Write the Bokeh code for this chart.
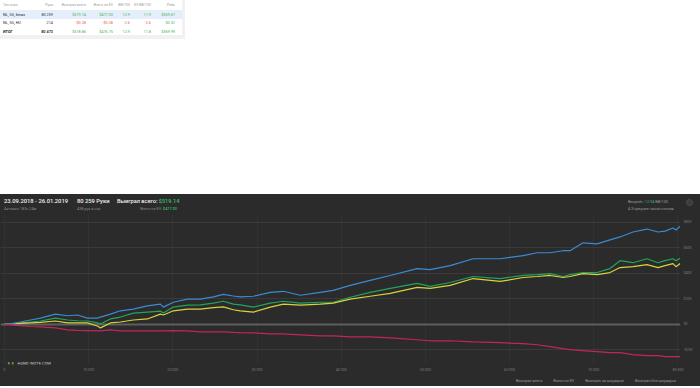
from bokeh.plotting import figure
from bokeh.models import Div, Range1d, FixedTicker, Span, Label, Legend, LegendItem
from bokeh.layouts import column
from bokeh.embed import file_html
from bokeh.resources import INLINE

# ---------------- table data ----------------
table_header = ["Тип игры", "Руки", "Выиграл всего", "Всего по EV", "BB/100", "EV BB/100", "Рейк"]
game_types = ["NL, SS, 6max", "NL, SS, HU", "ИТОГ"]
hands_col = ["80 259", "214", "80 473"]
won_col = ["$519.14", "-$0.28", "$518.86"]
ev_col = ["$477.03", "-$0.28", "$476.75"]
bb100_col = ["12.9", "-2.6", "12.9"]
evbb100_col = ["11.9", "-2.6", "11.8"]
rake_col = ["$369.67", "$0.32", "$369.99"]

# ---------------- chart data ----------------
hands = [0, 710, 1900, 3090, 4270, 6050, 7480, 8670, 9850, 11040, 11400, 12580, 13770, 15310, 16970,
         18520, 18870, 20060, 21720, 23270, 24810, 26000, 27180, 28010,
         29560, 31570, 33120, 35140, 37510, 39050, 41070, 43440, 45820, 49020, 50570, 52940, 55670,
         58880, 61600, 63270, 64810, 66350, 67180, 68720, 70390, 71930, 73120, 74660, 76320, 77630,
         78460, 79410, 79760, 80259]
won_total = [0, 4, 12, 19, 27, 50, 35, 29, 27, 12, 4, 43, 58, 89, 97, 105, 89, 136, 151, 153, 167, 182,
             159, 153,
             136, 167, 182, 167, 174, 174, 213, 252, 283, 322, 298, 329, 376, 360, 384, 391, 399, 376,
             391, 407, 407, 438, 500, 484, 515, 484, 500, 515, 500, 519.14]
won_ev = [0, 2, 8, 12, 16, 27, 12, 12, 12, -12, -27, 12, 19, 35, 43, 81, 74, 107, 120, 120, 132, 138,
          115, 107,
          97, 136, 159, 151, 159, 167, 198, 221, 244, 291, 283, 306, 360, 337, 368, 376, 384, 368, 376,
          399, 391, 407, 446, 453, 469, 446, 461, 477, 453, 477.03]
won_sd = [0, 4, 19, 35, 50, 81, 68, 74, 50, 50, 58, 81, 107, 120, 146, 159, 136, 174, 198, 198, 216, 236,
          223, 216,
          221, 252, 260, 229, 252, 267, 306, 345, 384, 438, 430, 461, 515, 515, 539, 562, 562, 578, 578,
          640, 632, 663, 686, 725, 748, 725, 732, 756, 740, 771]
won_nsd = [0, -2, -9, -16, -19, -27, -43, -47, -48, -50, -50, -43, -50, -50, -50, -50, -50, -48, -50, -58,
           -58, -58, -62, -64,
           -66, -74, -74, -81, -89, -89, -97, -97, -105, -120, -128, -128, -136, -143, -151, -159, -174,
           -190, -198, -205, -213, -221, -221, -236, -244, -244, -252, -252, -252, -252]

series_names = ["Выиграл всего", "Всего по EV", "Выиграл на шоудауне", "Выиграл без шоудауна"]
series_colors = ["#23a35c", "#d9d23c", "#3a8bd2", "#c4245c"]

x_ticks = [0, 10000, 20000, 30000, 40000, 50000, 60000, 70000, 80000]
x_tick_labels = ["0", "10 000", "20 000", "30 000", "40 000", "50 000", "60 000", "70 000", "80 000"]
y_ticks = [-200, 0, 200, 400, 600, 800]
y_tick_labels = ["-$200", "$0", "$200", "$400", "$600", "$800"]

FONT = "Roboto"
GREEN = "#4caf50"
RED = "#ef5a3c"
W = 700
BG = "#2b2b2b"

# ---------------- top table (HTML) ----------------
col_right = [None, 53, 86, 113, 130, 151, 175]
row_tops = [0, 10, 19, 27.5]
row_hs = [10, 9, 8.5, 7.5]
cells = ['<div style="position:absolute;left:0;top:10px;width:182px;height:9px;background:#e4effb;"></div>']


def cell(txt, col, top, h, color, weight=400, size=3.8):
    base = (f"position:absolute;top:{top}px;height:{h}px;line-height:{h}px;"
            f"font-family:{FONT};font-size:{size}px;color:{color};font-weight:{weight};white-space:nowrap;")
    if col == 0:
        return f'<div style="{base}left:3px;">{txt}</div>'
    return f'<div style="{base}right:{182 - col_right[col]}px;text-align:right;">{txt}</div>'


for j, t in enumerate(table_header):
    cells.append(cell(t, j, row_tops[0], row_hs[0], "#a0a0a0", size=3.5))


def vcol(s):
    return RED if s.startswith("-") else GREEN


for i in range(3):
    top, h = row_tops[i + 1], row_hs[i + 1]
    bold = 700 if i == 2 else 400
    cells.append(cell(game_types[i], 0, top, h, "#222222", bold))
    cells.append(cell(hands_col[i], 1, top, h, "#333333", bold))
    cells.append(cell(won_col[i], 2, top, h, vcol(won_col[i])))
    cells.append(cell(ev_col[i], 3, top, h, vcol(ev_col[i])))
    cells.append(cell(bb100_col[i], 4, top, h, vcol(bb100_col[i])))
    cells.append(cell(evbb100_col[i], 5, top, h, vcol(evbb100_col[i])))
    cells.append(cell(rake_col[i], 6, top, h, GREEN))

table_html = (
    f'<div style="position:relative;width:{W}px;height:194px;background:#ffffff;">'
    '<div style="position:absolute;left:0;top:0;width:185px;height:39px;background:#f1f1f1;"></div>'
    '<div style="position:absolute;left:0;top:0;width:182px;height:35px;background:#ffffff;overflow:hidden;">'
    + "".join(cells) + '</div></div>'
)
table_div = Div(text=table_html, width=W, height=194, margin=(0, 0, 0, 0))


# ---------------- dark header (HTML) ----------------
def span(txt, left, top, size, color, weight=400):
    return (f'<div style="position:absolute;left:{left}px;top:{top}px;font-family:{FONT};font-size:{size}px;'
            f'line-height:1;color:{color};font-weight:{weight};white-space:nowrap;">{txt}</div>')


hdr = [
    span("23.09.2018 - 26.01.2019", 4, 5, 5.8, "#f0f0f0", 500),
    span("Активен 183ч 24м", 4, 13, 3.8, "#8a8a8a"),
    span("80 259 Руки", 77, 5, 5.8, "#f0f0f0", 500),
    span("438 рук в час", 77, 13, 3.8, "#8a8a8a"),
    span(f'Выиграл всего: <span style="color:#3cbf6e">{won_col[0]}</span>', 117, 5, 5.6, "#f0f0f0", 500),
    (f'<div style="position:absolute;left:110px;width:67px;top:13px;text-align:right;font-family:{FONT};'
     f'font-size:3.8px;line-height:1;color:#8a8a8a;white-space:nowrap;">Всего по EV: '
     f'<span style="color:#3cbf6e;font-weight:500">{ev_col[0]}</span></div>'),
    span('Винрейт: <span style="color:#3cbf6e">12.94</span> BB/100', 628, 6, 3.8, "#9a9a9a"),
    span("4.3 среднее число столов", 628, 13, 3.8, "#9a9a9a"),
    ('<div style="position:absolute;left:686px;top:5px;width:7px;height:7px;border-radius:50%;'
     'background:#3c3c3c;border:0.7px solid #4e4e4e;"></div>'),
]
header_html = (f'<div style="position:relative;width:{W}px;height:20px;background:{BG};overflow:hidden;">'
               + "".join(hdr) + '</div>')
header_div = Div(text=header_html, width=W, height=20, margin=(0, 0, 0, 0))

# ---------------- chart ----------------
p = figure(width=W, height=161, x_range=Range1d(-475, 80300), y_range=Range1d(-314, 862),
           output_backend="svg", toolbar_location=None, y_axis_location="right",
           background_fill_color=BG, border_fill_color=BG, outline_line_color=None,
           min_border_left=0, min_border_right=20, min_border_top=0, min_border_bottom=11,
           styles={"background-color": BG})

p.xaxis.ticker = FixedTicker(ticks=x_ticks)
p.xaxis.major_label_overrides = {t: l for t, l in zip(x_ticks, x_tick_labels)}
p.yaxis.ticker = FixedTicker(ticks=y_ticks)
p.yaxis.major_label_overrides = {t: l for t, l in zip(y_ticks, y_tick_labels)}
for ax in (p.xaxis[0], p.yaxis[0]):
    ax.axis_line_color = None
    ax.major_tick_line_color = None
    ax.minor_tick_line_color = None
    ax.major_tick_out = 0
    ax.major_tick_in = 0
    ax.major_label_text_font = FONT
    ax.major_label_text_font_size = "3.6px"
    ax.major_label_text_color = "#7a7a7a"
    ax.major_label_standoff = 3

p.xgrid.grid_line_color = "#323232"
p.ygrid.grid_line_color = "#3a3a3a"

p.add_layout(Span(location=0, dimension="width", line_color="#5e5e5e", line_width=2, level="underlay"))

series = [won_total, won_ev, won_sd, won_nsd]
for vals, col in zip(series, series_colors):
    p.line(hands, vals, line_color=col, line_width=1.2)

# logo
logo = [("H", 7, -1, "9px", "bold", "#6fae3f"),
        ("HAND", 17, 1.5, "4px", "normal", "#d8d8d8"),
        ("2", 27.9, 1.5, "4px", "normal", "#6fae3f"),
        ("NOTE.COM", 30.2, 1.5, "4px", "normal", "#d8d8d8")]
for txt, lx, ly, fs, st, colr in logo:
    p.add_layout(Label(x=lx, y=ly, x_units="screen", y_units="screen", text=txt, text_font=FONT,
                       text_font_size=fs, text_font_style=st, text_color=colr, text_baseline="alphabetic"))

# ---------------- legend strip ----------------
lg = figure(width=W, height=11, x_range=Range1d(0, 1), y_range=Range1d(0, 1),
            output_backend="svg", toolbar_location=None,
            background_fill_color=BG, border_fill_color=BG, outline_line_color=None,
            min_border_left=0, min_border_right=0, min_border_top=0, min_border_bottom=0,
            styles={"background-color": BG})
lg.xaxis.visible = False
lg.yaxis.visible = False
lg.grid.visible = False
items = []
for name, col in zip(series_names, series_colors):
    r = lg.scatter(x=[], y=[], marker="square", size=3, fill_color=col, line_color=col)
    items.append(LegendItem(label=name, renderers=[r]))
legend = Legend(items=items, orientation="horizontal", location=(510, 3),
                label_text_font=FONT, label_text_font_size="3.8px", label_text_color="#9a9a9a",
                glyph_width=4, glyph_height=4, label_height=5, label_standoff=2, spacing=5,
                padding=0, margin=0, background_fill_alpha=0, border_line_alpha=0)
lg.add_layout(legend)

layout = column(table_div, header_div, p, lg, spacing=0)
open("out.html", "w").write(file_html(layout, INLINE))
